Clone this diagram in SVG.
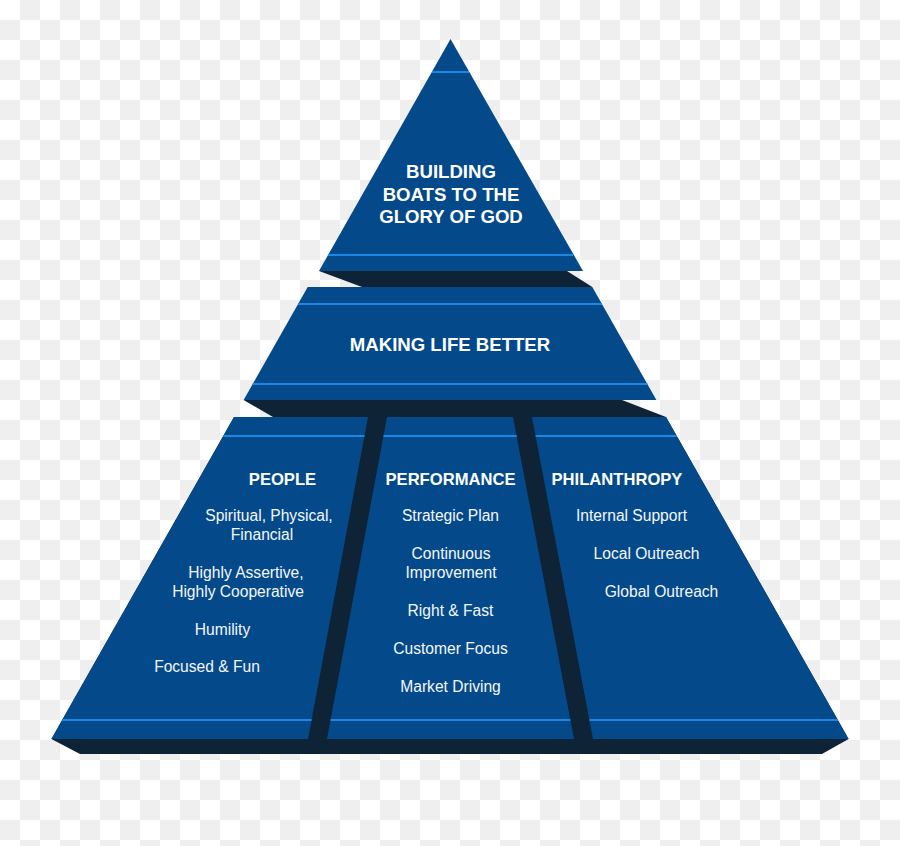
<svg xmlns="http://www.w3.org/2000/svg" width="900" height="846" viewBox="0 0 900 846">
  <defs>
    <pattern id="checker" x="0" y="0" width="40" height="40" patternUnits="userSpaceOnUse">
      <rect x="0" y="0" width="40" height="40" fill="#ffffff"/>
      <rect x="20" y="0" width="20" height="20" fill="#efefef"/>
      <rect x="0" y="20" width="20" height="20" fill="#efefef"/>
    </pattern>
    <style>
      .face { fill: #044a8b; }
      .dark { fill: #0f2337; }
      .hl { stroke: #1a86e6; stroke-width: 2.2; fill: none; }
      .title { font-family: "Liberation Sans", Arial, sans-serif; font-weight: bold; font-size: 18.6px; fill: #ffffff; text-anchor: middle; }
      .head { font-family: "Liberation Sans", Arial, sans-serif; font-weight: bold; font-size: 16.6px; fill: #ffffff; text-anchor: middle; }
      .body { font-family: "Liberation Sans", Arial, sans-serif; font-size: 15.6px; fill: #f4f6fa; text-anchor: middle; }
    </style>
  </defs>

  <rect x="0" y="0" width="900" height="846" fill="url(#checker)"/>

  <g id="shadows">
    <polygon class="dark" points="319,271 567,271 592.3,287 362,287"/>
    <polygon class="dark" points="243.6,400 622,400 666,417 273,417"/>
    <polygon class="dark" points="234,417 666,417 848.6,739 822,754 80,754 51.4,739"/>
  </g>

  <g id="tier-top">
    <polygon class="face" points="450.5,39 583,271 319,271"/>
    <line class="hl" x1="432" y1="72" x2="469" y2="72"/>
    <line class="hl" x1="328" y1="255" x2="573" y2="255"/>
    <text class="title" x="451" y="178">BUILDING</text>
    <text class="title" x="451" y="200.5">BOATS TO THE</text>
    <text class="title" x="451" y="223">GLORY OF GOD</text>
  </g>

  <g id="tier-middle">
    <polygon class="face" points="307.7,287 592.3,287 656.4,400 243.6,400"/>
    <line class="hl" x1="298" y1="304" x2="602" y2="304"/>
    <line class="hl" x1="252.7" y1="384" x2="647.3" y2="384"/>
    <text class="title" x="450" y="351">MAKING LIFE BETTER</text>
  </g>

  <g id="col-people">
    <polygon class="face" points="234,417 368,417 308,739 51.4,739"/>
    <line class="hl" x1="223.2" y1="436" x2="364.5" y2="436"/>
    <line class="hl" x1="62.2" y1="720" x2="311.5" y2="720"/>
    <text class="head" x="282.5" y="485">PEOPLE</text>
    <text class="body" x="269" y="521">Spiritual, Physical,</text>
    <text class="body" x="262" y="540">Financial</text>
    <text class="body" x="246" y="578">Highly Assertive,</text>
    <text class="body" x="238" y="597">Highly Cooperative</text>
    <text class="body" x="222.5" y="635">Humility</text>
    <text class="body" x="207" y="672">Focused &amp; Fun</text>
  </g>

  <g id="col-performance">
    <polygon class="face" points="387,417 513,417 574,739 327,739"/>
    <line class="hl" x1="383.5" y1="436" x2="516.6" y2="436"/>
    <line class="hl" x1="330.5" y1="720" x2="570.4" y2="720"/>
    <text class="head" x="450.5" y="485">PERFORMANCE</text>
    <text class="body" x="450.5" y="521">Strategic Plan</text>
    <text class="body" x="451" y="559">Continuous</text>
    <text class="body" x="451" y="578">Improvement</text>
    <text class="body" x="450.5" y="616">Right &amp; Fast</text>
    <text class="body" x="450.5" y="654">Customer Focus</text>
    <text class="body" x="450.5" y="692">Market Driving</text>
  </g>

  <g id="col-philanthropy">
    <polygon class="face" points="532,417 666,417 848.6,739 593,739"/>
    <line class="hl" x1="535.6" y1="436" x2="676.8" y2="436"/>
    <line class="hl" x1="589.4" y1="720" x2="837.8" y2="720"/>
    <text class="head" x="617" y="485">PHILANTHROPY</text>
    <text class="body" x="631.5" y="521">Internal Support</text>
    <text class="body" x="646.5" y="559">Local Outreach</text>
    <text class="body" x="661.5" y="597">Global Outreach</text>
  </g>
</svg>
